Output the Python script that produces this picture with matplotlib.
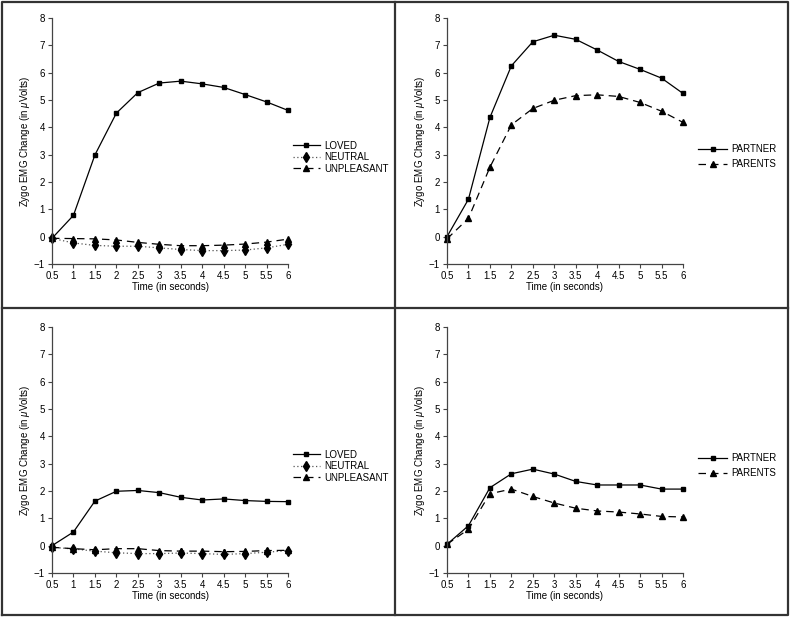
import numpy as np
import matplotlib
matplotlib.use("Agg")
import matplotlib.pyplot as plt
from matplotlib.lines import Line2D

plt.rcParams["font.family"] = ["Liberation Sans", "DejaVu Sans"]
plt.rcParams["mathtext.fontset"] = "custom"
plt.rcParams["mathtext.it"] = "Liberation Sans:italic"

# ── data ──────────────────────────────────────────────────────────────────────
time = [0.5, 1, 1.5, 2, 2.5, 3, 3.5, 4, 4.5, 5, 5.5, 6]

# top-left
loved_a      = [-0.06, 0.78, 2.99, 4.52, 5.27, 5.62, 5.69, 5.59, 5.46, 5.20, 4.93, 4.62]
neutral_a    = [-0.06, -0.23, -0.32, -0.35, -0.35, -0.41, -0.47, -0.51, -0.51, -0.49, -0.41, -0.28]
unpleasant_a = [-0.06, -0.07, -0.08, -0.12, -0.21, -0.28, -0.33, -0.33, -0.31, -0.27, -0.20, -0.09]

# top-right
partner_a = [0.00, 1.37, 4.36, 6.25, 7.13, 7.37, 7.22, 6.83, 6.41, 6.12, 5.80, 5.24]
parents_a = [-0.08, 0.67, 2.54, 4.09, 4.69, 4.99, 5.16, 5.19, 5.13, 4.91, 4.59, 4.18]

# bottom-left
loved_b      = [0.00, 0.50, 1.63, 1.99, 2.02, 1.94, 1.77, 1.67, 1.71, 1.65, 1.62, 1.61]
neutral_b    = [-0.06, -0.12, -0.20, -0.26, -0.29, -0.29, -0.27, -0.29, -0.32, -0.29, -0.24, -0.18]
unpleasant_b = [-0.06, -0.11, -0.15, -0.11, -0.11, -0.18, -0.20, -0.20, -0.22, -0.21, -0.18, -0.17]

# bottom-right
partner_b = [0.05, 0.73, 2.12, 2.63, 2.80, 2.62, 2.35, 2.22, 2.22, 2.22, 2.07, 2.07]
parents_b = [0.05, 0.60, 1.90, 2.07, 1.80, 1.56, 1.37, 1.27, 1.23, 1.16, 1.07, 1.05]

xticks = [0.5, 1, 1.5, 2, 2.5, 3, 3.5, 4, 4.5, 5, 5.5, 6]
xticklabels = ["0.5", "1", "1.5", "2", "2.5", "3", "3.5", "4", "4.5", "5", "5.5", "6"]
yticks = [-1, 0, 1, 2, 3, 4, 5, 6, 7, 8]
yticklabels = ["\u22121", "0", "1", "2", "3", "4", "5", "6", "7", "8"]

FS = 7
SPINE = "#444444"

fig = plt.figure(figsize=(7.9, 6.17), dpi=100)

W = 236 / 790
H = 246 / 617
positions = [
    (52 / 790, 1 - 264 / 617),
    (447 / 790, 1 - 264 / 617),
    (52 / 790, 1 - 573 / 617),
    (447 / 790, 1 - 573 / 617),
]


def style_axis(ax):
    ax.set_xlim(0.5, 6)
    ax.set_ylim(-1, 8)
    ax.set_xticks(xticks)
    ax.set_xticklabels(xticklabels)
    ax.set_yticks(yticks)
    ax.set_yticklabels(yticklabels)
    for s in ["top", "right"]:
        ax.spines[s].set_visible(False)
    for s in ["left", "bottom"]:
        ax.spines[s].set_color(SPINE)
        ax.spines[s].set_linewidth(0.9)
    ax.tick_params(direction="out", length=3, width=0.8, color=SPINE,
                   labelsize=FS, pad=2)
    ax.set_xlabel("Time (in seconds)", fontsize=FS, labelpad=1)
    ax.set_ylabel(r"Zygo EMG Change (in $\mathit{\mu}$Volts)", fontsize=FS, labelpad=1.5)


def three_lines(ax, loved, neutral, unpleasant):
    ax.plot(time, loved, color="black", lw=0.9, marker="s", ms=3.2,
            label="LOVED", clip_on=False)
    ax.plot(time, neutral, color="#555555", lw=0.9, ls=(0, (1, 2)),
            marker="d", ms=4.6, mfc="black", mec="black", label="NEUTRAL", clip_on=False)
    ax.plot(time, unpleasant, color="black", lw=0.9, ls=(0, (6, 4)),
            marker="^", ms=4, label="UNPLEASANT", clip_on=False)
    ax.legend(loc="center left", bbox_to_anchor=(1.0, 0.434), frameon=False,
              fontsize=FS, handlelength=2.8, handletextpad=0.4, labelspacing=0.15,
              borderaxespad=0.1)


def two_lines(ax, partner, parents):
    ax.plot(time, partner, color="black", lw=0.9, marker="s", ms=3.2,
            label="PARTNER", clip_on=False)
    ax.plot(time, parents, color="black", lw=0.9, ls=(0, (6, 4)),
            marker="^", ms=4, label="PARENTS", clip_on=False)
    ax.legend(loc="center left", bbox_to_anchor=(1.0, 0.437), frameon=False,
              fontsize=FS, handlelength=3.0, handletextpad=0.4, labelspacing=0.5,
              borderaxespad=1.15)


axes = [fig.add_axes([x, y, W, H]) for x, y in positions]

three_lines(axes[0], loved_a, neutral_a, unpleasant_a)
two_lines(axes[1], partner_a, parents_a)
three_lines(axes[2], loved_b, neutral_b, unpleasant_b)
two_lines(axes[3], partner_b, parents_b)

for ax in axes:
    style_axis(ax)

# ── panel frame ───────────────────────────────────────────────────────────────
frame = dict(color="#333333", lw=1.6, transform=fig.transFigure)
x0, x1 = 2 / 790, 788 / 790
y0, y1 = 1 - 615 / 617, 1 - 2 / 617
xm, ym = 395 / 790, 1 - 308 / 617
fig.add_artist(Line2D([x0, x1, x1, x0, x0], [y0, y0, y1, y1, y0], **frame))
fig.add_artist(Line2D([xm, xm], [y0, y1], **frame))
fig.add_artist(Line2D([x0, x1], [ym, ym], **frame))

plt.savefig("out.png", dpi=100)
plt.close()
